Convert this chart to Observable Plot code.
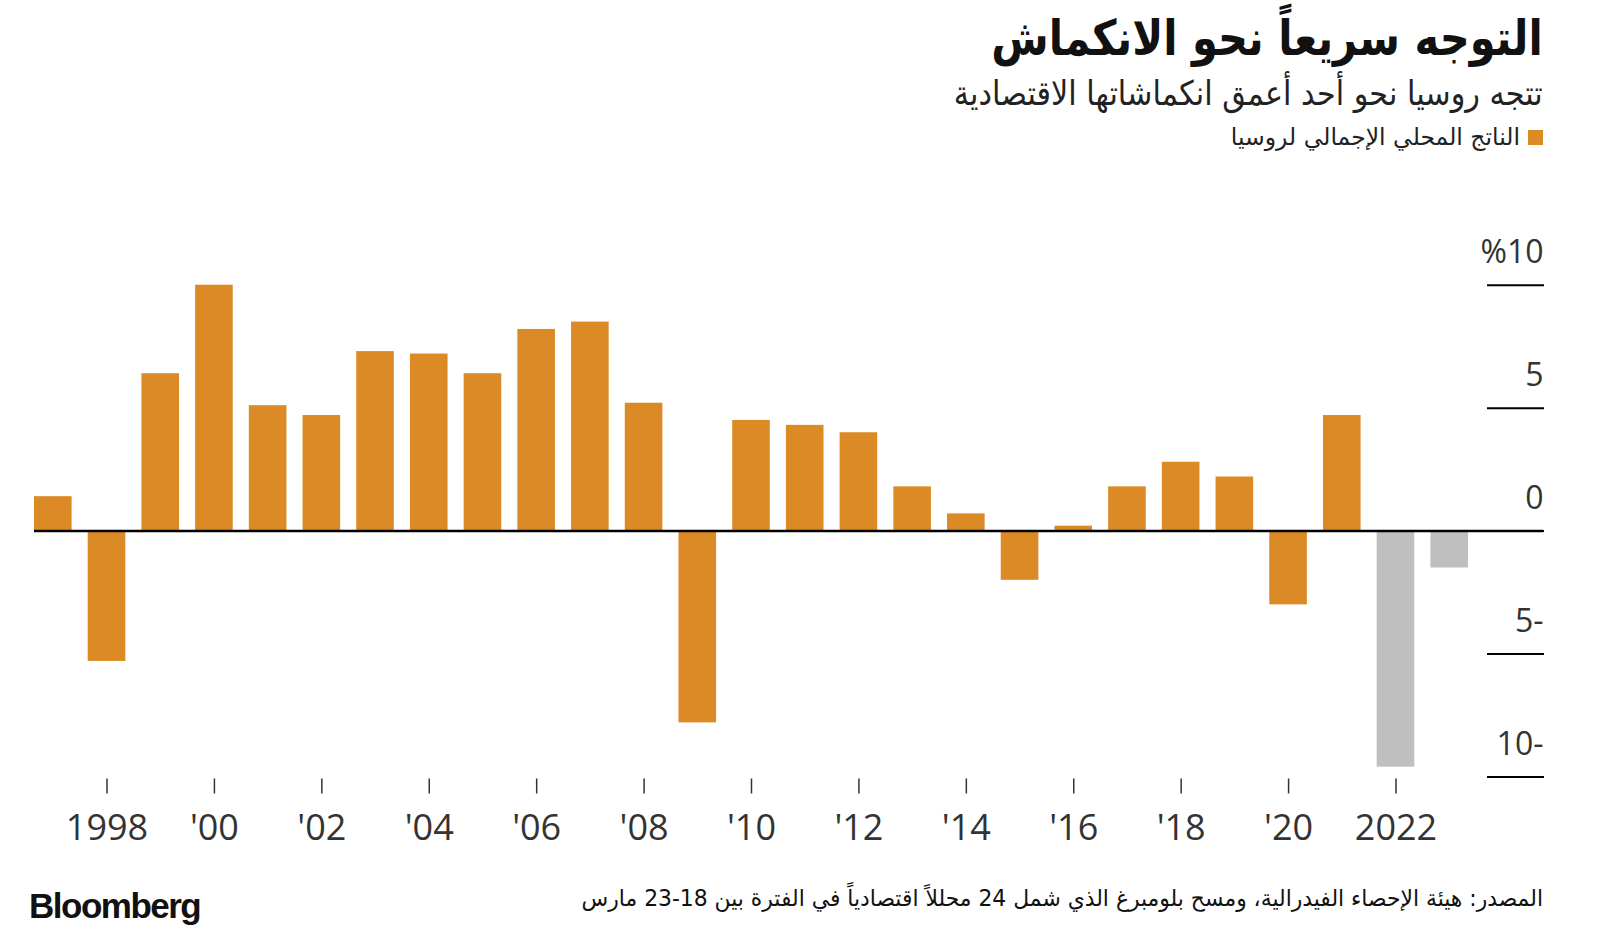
<!DOCTYPE html>
<html lang="ar">
<head>
<meta charset="utf-8">
<script src="https://cdn.jsdelivr.net/npm/d3@7"></script>
<script src="https://cdn.jsdelivr.net/npm/@observablehq/plot@0.6"></script>
<style>
  html, body { margin: 0; padding: 0; background: #fff; }
  #page { position: relative; width: 1600px; height: 939px; overflow: hidden; }
  #header { position: relative; height: 200px; }
  .ar { font-family: "DejaVu Sans", "Noto Sans", sans-serif; direction: rtl; position: absolute; right: 57px; white-space: nowrap; color: #111; transform-origin: right center; }
  #title { top: 10px; font-size: 49px; font-weight: bold; transform: scaleX(0.85); }
  #subtitle { top: 73px; font-size: 34px; color: #222; transform: scaleX(0.89); }
  #legend { top: 123px; font-size: 23.5px; color: #222; display: flex; align-items: center; }
  #legend .sw { display: inline-block; width: 15px; height: 15px; background: #DB8A25; margin-left: 8px; }
  #chart { position: absolute; top: 200px; left: 0; }
  #footer { position: absolute; top: 860px; left: 0; width: 1600px; height: 79px; }
  #logo { position: absolute; left: 29px; top: 26px; font-family: "Liberation Sans", Arial, sans-serif; font-weight: bold; font-size: 35px; letter-spacing: -1.5px; color: #111; }
  #source { top: 25px; font-size: 23px; color: #111; transform: scaleX(0.95); }
</style>
</head>
<body>
<div id="page">
  <div id="header">
    <div class="ar" id="title">التوجه سريعاً نحو الانكماش</div>
    <div class="ar" id="subtitle">تتجه روسيا نحو أحد أعمق انكماشاتها الاقتصادية</div>
    <div class="ar" id="legend"><span class="sw"></span><span>الناتج المحلي الإجمالي لروسيا</span></div>
  </div>
  <div id="chart"></div>
  <div id="footer">
    <div id="logo">Bloomberg</div>
    <div class="ar" id="source">المصدر: هيئة الإحصاء الفيدرالية، ومسح بلومبرغ الذي شمل 24 محللاً اقتصادياً في الفترة بين 18&#x200F;-&#x200F;23 مارس</div>
  </div>
</div>
<script>
// Data
const years = [1997, 1998, 1999, 2000, 2001, 2002, 2003, 2004, 2005, 2006, 2007, 2008, 2009, 2010, 2011, 2012, 2013, 2014, 2015, 2016, 2017, 2018, 2019, 2020, 2021, 2022, 2023];
const growth = [1.4, -5.3, 6.4, 10.0, 5.1, 4.7, 7.3, 7.2, 6.4, 8.2, 8.5, 5.2, -7.8, 4.5, 4.3, 4.0, 1.8, 0.7, -2.0, 0.2, 1.8, 2.8, 2.2, -3.0, 4.7, -9.6, -1.5];
const forecastYears = [2022, 2023];
const xTicks = [1998, 2000, 2002, 2004, 2006, 2008, 2010, 2012, 2014, 2016, 2018, 2020, 2022];
const xTickLabels = ["1998", "'00", "'02", "'04", "'06", "'08", "'10", "'12", "'14", "'16", "'18", "'20", "2022"];
const yTicks = [-10, -5, 0, 5, 10];
const yTickLabels = ["10-", "5-", "0", "5", "%10"];

const data = years.map((year, i) => ({
  year,
  value: growth[i],
  kind: forecastYears.includes(year) ? "forecast" : "actual"
}));

const xLabel = new Map(xTicks.map((t, i) => [t, xTickLabels[i]]));
const yLabel = new Map(yTicks.map((t, i) => [t, yTickLabels[i]]));

const chart = Plot.plot({
  width: 1600,
  height: 660,
  marginLeft: 34,
  marginRight: 114,
  marginTop: 84.7,
  marginBottom: 83.5,
  style: { fontFamily: "'Open Sans', sans-serif", background: "transparent" },
  x: { type: "band", domain: years, paddingInner: 0.3, paddingOuter: 0, insetRight: 18, round: false, axis: null },
  y: { domain: [-10, 10], axis: null },
  color: { domain: ["actual", "forecast"], range: ["#DB8A25", "#BFBFBF"] },
  marks: [
    Plot.barY(data, { x: "year", y: "value", fill: "kind" }),
    // short tick lines at each y value
    Plot.axisY(yTicks, {
      anchor: "right",
      label: null,
      tickSize: 57,
      tickPadding: 0,
      strokeWidth: 2,
      stroke: "#000",
      tickFormat: () => ""
    }),
    // labels sitting above each tick line
    Plot.axisY(yTicks, {
      anchor: "right",
      label: null,
      tickSize: 0,
      tickPadding: 57,
      textAnchor: "end",
      lineAnchor: "bottom",
      dy: -22,
      fontSize: 32,
      fill: "#333",
      tickFormat: d => yLabel.get(d)
    }),
    Plot.ruleY([0], { stroke: "#000", strokeWidth: 2.5, insetRight: -57 }),
    Plot.axisX(xTicks, {
      anchor: "bottom",
      label: null,
      tickSize: 15,
      tickPadding: 20,
      dy: 2,
      strokeWidth: 1.5,
      stroke: "#333",
      fontSize: 36,
      fill: "#333",
      tickFormat: d => xLabel.get(d)
    })
  ]
});
document.getElementById("chart").appendChild(chart);
</script>
</body>
</html>
